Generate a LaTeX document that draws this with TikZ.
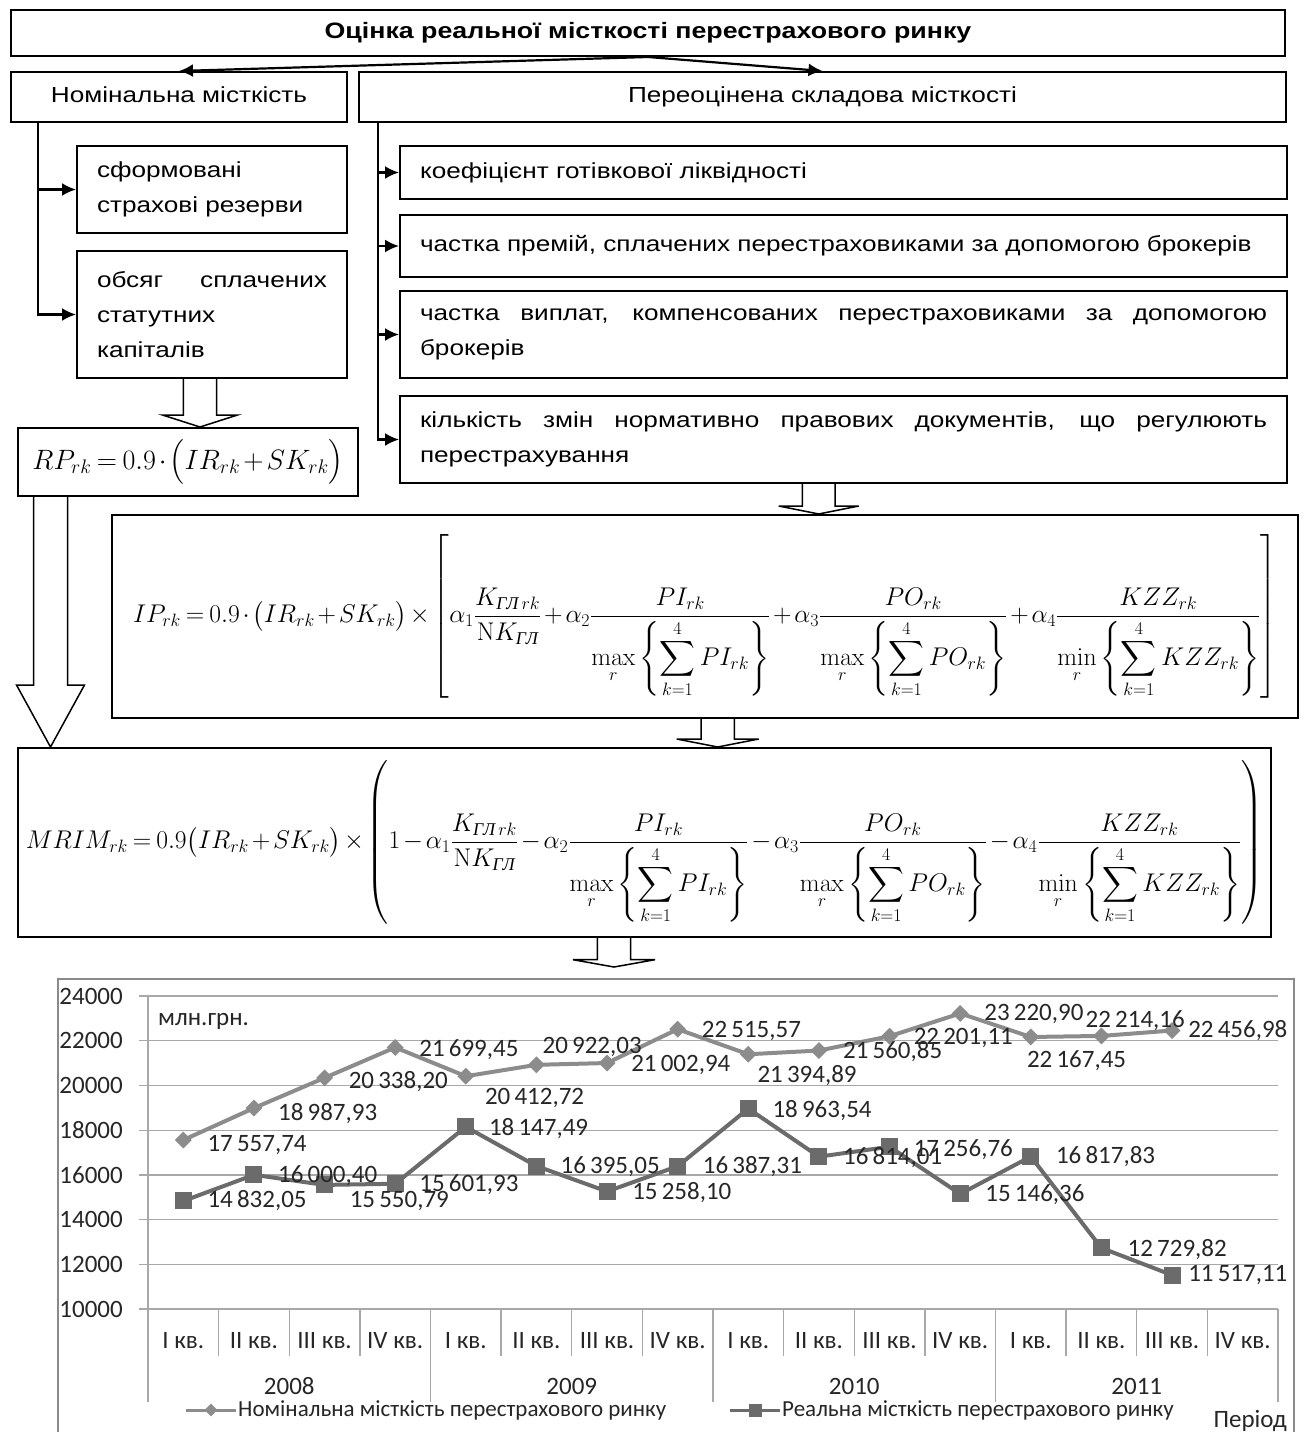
\RequirePackage{fix-cm}
\documentclass[tikz,border=0pt]{standalone}
\usepackage{amsmath}
\usepackage[no-math]{fontspec}
\setmainfont{Liberation Sans}[FakeStretch=1.2]
\newfontfamily\serifcyr{Liberation Serif}
\newfontfamily\chartfam{Carlito}
\usepackage{xcolor}
\usepackage{tikz}
\usetikzlibrary{arrows.meta,positioning,shapes.geometric,calc}
\definecolor{nomgray}{HTML}{8C8C8C}
\definecolor{realgray}{HTML}{6B6B6B}
\definecolor{gridgray}{HTML}{A8A8A8}
\definecolor{framegray}{HTML}{8A8A8A}
\definecolor{labgray}{HTML}{262626}
\newcommand{\boxfont}{\fontsize{21.8}{35}\selectfont}
\newcommand{\titlefont}{\bfseries\fontsize{22.3}{30}\selectfont}
\newcommand{\formulafont}{\fontsize{25.6}{32}\selectfont\medmuskip=2mu\thickmuskip=3.5mu\relax}
\newcommand{\chartfont}{\chartfam\fontsize{25}{28}\selectfont}
\newcommand{\legendfont}{\chartfam\fontsize{23}{28}\selectfont}
\newcommand{\GL}{\text{\serifcyr\itshape ГЛ}}
\newcommand{\normed}[2]{\displaystyle #1_r\left\{\sum_{k=1}^{4}#2\right\}}
\newcommand{\fatarrow}[6]{%
  \draw[fat] let \p1=#2, \p2=#3 in
    (#1pt-#4pt,\y1) -- (#1pt-#4pt,\y2+#6pt) -- (#1pt-#5pt,\y2+#6pt) -- (#1pt,\y2)
    -- (#1pt+#5pt,\y2+#6pt) -- (#1pt+#4pt,\y2+#6pt) -- (#1pt+#4pt,\y1);}
\tikzset{
  box/.style={draw, line width=2pt, rectangle, anchor=north west, inner xsep=20pt, inner ysep=4pt, font=\boxfont},
  onebox/.style={box, text height=16pt, text depth=5pt},
  titlebox/.style={onebox, font=\titlefont},
  tbox/.style={box, text width=230pt, minimum width=270pt, align=left},
  kbox/.style={box, text width=847pt, minimum width=887pt, align=justify, execute at begin node={\tolerance=10000 }},
  fbox/.style={box, inner xsep=6pt, font=\formulafont},
  arr/.style={-{Latex[length=14pt,width=13pt]}, line width=2.2pt},
  fat/.style={draw, line width=1.5pt},
  chartframe/.style={draw=framegray, line width=2pt, anchor=north west},
  gridline/.style={draw=gridgray, line width=1.3pt},
  nomline/.style={draw=nomgray, line width=4pt, line join=round},
  realline/.style={draw=realgray, line width=4pt, line join=round},
  diam/.style={diamond, fill=nomgray, inner sep=0pt, minimum size=17pt},
  sq/.style={rectangle, fill=realgray, inner sep=0pt, minimum size=17pt},
  clab/.style={font=\chartfont, text=labgray, inner sep=1pt},
  dlab/.style={clab, anchor=west},
  leg/.style={clab, anchor=west, font=\legendfont}
}
\begin{document}
\begin{tikzpicture}[x=1pt, y=-1pt]
\useasboundingbox (0,0) rectangle (1306,1432);
\node[titlebox, minimum width=1274, minimum height=46] (title) at (10,9) {Оцінка реальної місткості перестрахового ринку};
\node[onebox, minimum width=336, minimum height=50] (nom) at (10,71) {Номінальна місткість};
\node[onebox, minimum width=927, minimum height=50] (reval) at (358,71) {Переоцінена складова місткості};
\node[tbox, minimum height=87] (res) at (76,145) {сформовані\\страхові резерви};
\node[tbox, minimum height=127] (cap) at (76,250) {обсяг\hfill сплачених\\статутних\\капіталів};
\node[kbox, minimum height=53] (k1) at (399,145) {коефіцієнт готівкової ліквідності};
\node[kbox, minimum height=62] (k2) at (399,214) {частка премій, сплачених перестраховиками за допомогою брокерів};
\node[kbox, minimum height=87] (k3) at (399,290) {частка виплат, компенсованих перестраховиками за допомогою\linebreak брокерів};
\node[kbox, minimum height=87] (k4) at (399,395) {кількість змін нормативно правових документів, що регулюють\linebreak перестрахування};
\node[fbox, minimum width=340, minimum height=68, font=\formulafont\fontsize{28}{32}\selectfont] (rp) at (17,427) {$RP_{rk}=0.9\cdot\bigl(IR_{rk}+SK_{rk}\bigr)$};
\node[fbox, minimum width=1186, minimum height=203] (ip) at (111,514) {$\displaystyle IP_{rk}=0.9\cdot\bigl(IR_{rk}+SK_{rk}\bigr)\times\left[\alpha_1\frac{K_{\GL\,rk}}{\mathrm{N}K_{\GL}}+\alpha_2\frac{PI_{rk}}{\normed{\max}{PI_{rk}}}+\alpha_3\frac{PO_{rk}}{\normed{\max}{PO_{rk}}}+\alpha_4\frac{KZZ_{rk}}{\normed{\min}{KZZ_{rk}}}\right]$};
\node[fbox, minimum width=1253, minimum height=189] (mrim) at (17,747) {$\displaystyle MRIM_{rk}=0.9\bigl(IR_{rk}+SK_{rk}\bigr)\times\left(1-\alpha_1\frac{K_{\GL\,rk}}{\mathrm{N}K_{\GL}}-\alpha_2\frac{PI_{rk}}{\normed{\max}{PI_{rk}}}-\alpha_3\frac{PO_{rk}}{\normed{\max}{PO_{rk}}}-\alpha_4\frac{KZZ_{rk}}{\normed{\min}{KZZ_{rk}}}\right)$};
\node[chartframe, minimum width=1236, minimum height=470] (chart) at (57,978) {};
\draw[arr] (title.south) -- (nom.north);
\draw[arr] (title.south) -- (reval.north);
\draw[arr] ([xshift=28pt]nom.south west) |- (res.west);
\draw[arr] ([xshift=28pt]nom.south west) |- (cap.west);
\foreach \b in {k1,k2,k3,k4}
  \draw[arr] ([xshift=20pt]reval.south west) |- (\b.west);
\fatarrow{200}{(cap.south)}{(rp.north)}{16.7}{37.5}{12}
\fatarrow{50.5}{(rp.south)}{(mrim.north)}{17}{34}{62}
\fatarrow{818.7}{(k4.south)}{(ip.north)}{16.3}{40}{8}
\fatarrow{717.7}{(ip.south)}{(mrim.north)}{16.7}{41}{8}
\fatarrow{614}{(mrim.south)}{([yshift=11pt]chart.north)}{16.7}{41}{7.3}
\begin{scope}[shift={(148,1309)}, x=70.625pt, y=22.357pt]
  \foreach \g in {0,2,...,14} {
    \draw[gridline] ([xshift=-9pt]0,\g) -- (16,\g);
    \pgfmathtruncatemacro\lab{10+\g}
    \node[clab, anchor=east] at ([xshift=-24pt]0,\g) {\lab000};
  }
  \draw[gridline] (0,14) -- ([yshift=-93pt]0,0);
  \foreach \q in {1,...,15} \draw[gridline] (\q,0) -- ([yshift=-47pt]\q,0);
  \foreach \yr in {4,8,12,16} \draw[gridline] (\yr,0) -- ([yshift=-93pt]\yr,0);
  \foreach \yr in {0,...,3}
    \foreach \q/\qn in {1/I,2/II,3/III,4/IV}
      \node[clab] at ([yshift=-32pt]4*\yr+\q-0.5,0) {\qn\ кв.};
  \foreach \yr/\yn in {2/2008,6/2009,10/2010,14/2011}
    \node[clab] at ([yshift=-77pt]\yr,0) {\yn};
  \foreach \i/\v in {1/17.55774,2/18.98793,3/20.33820,4/21.69945,5/20.41272,6/20.92203,7/21.00294,8/22.51557,9/21.39489,10/21.56085,11/22.20111,12/23.22090,13/22.16745,14/22.21416,15/22.45698}
    \coordinate (n\i) at (\i-0.5,\v-10);
  \foreach \i/\v in {1/14.83205,2/16.00040,3/15.55079,4/15.60193,5/18.14749,6/16.39505,7/15.25810,8/16.38731,9/18.96354,10/16.81401,11/17.25676,12/15.14636,13/16.81783,14/12.72982,15/11.51711}
    \coordinate (r\i) at (\i-0.5,\v-10);
  \draw[nomline] (n1) \foreach \i in {2,...,15} {-- (n\i)};
  \draw[realline] (r1) \foreach \i in {2,...,15} {-- (r\i)};
  \foreach \i in {1,...,15} {
    \node[diam] at (n\i) {};
    \node[sq] at (r\i) {};
  }
  \foreach \i/\dx/\dy/\txt in {1/23/-5/{17\,557,74},2/23/-5/{18\,987,93},3/23/-4/{20\,338,20},4/23/-2/{21\,699,45},5/18/-22/{20\,412,72},6/5/18/{20\,922,03},7/23/-2/{21\,002,94},8/23/-2/{22\,515,57},9/8/-21/{21\,394,89},10/23/-1/{21\,560,85},11/23/-2/{22\,201,11},12/23/-1/{23\,220,90},13/-5/-24/{22\,167,45},14/-17/15/{22\,214,16},15/15/0/{22\,456,98}}
    \node[dlab] at ([xshift=\dx pt, yshift=\dy pt]n\i) {\txt};
  \foreach \i/\dx/\dy/\txt in {1/23/0/{14\,832,05},2/23/-1/{16\,000,40},3/24/-16/{15\,550,79},4/23/-1/{15\,601,93},5/22/-2/{18\,147,49},6/23/-1/{16\,395,05},7/24/-1/{15\,258,10},8/24/0/{16\,387,31},9/23/-2/{18\,963,54},10/23/-1/{16\,814,01},11/23/-3/{17\,256,76},12/24/-1/{15\,146,36},13/24/0/{16\,817,83},14/25/-2/{12\,729,82},15/15/0/{11\,517,11}}
    \node[dlab] at ([xshift=\dx pt, yshift=\dy pt]r\i) {\txt};
\end{scope}
\node[dlab] (unit) at (157,1021) {млн.грн.};
\draw[nomline, line width=3pt] (186,1410) -- (236,1410);
\node[diam, minimum size=13pt] (m1) at (211,1410) {};
\node[leg] (leg1) at (237,1410) {Номінальна місткість перестрахового ринку};
\draw[realline, line width=3pt] (730,1410) -- (780,1410);
\node[sq, minimum size=13pt] (m2) at (755,1410) {};
\node[leg] (leg2) at (781,1410) {Реальна місткість перестрахового ринку};
\node[clab, anchor=east] (per) at (1288,1421) {Період};
\end{tikzpicture}
\end{document}
